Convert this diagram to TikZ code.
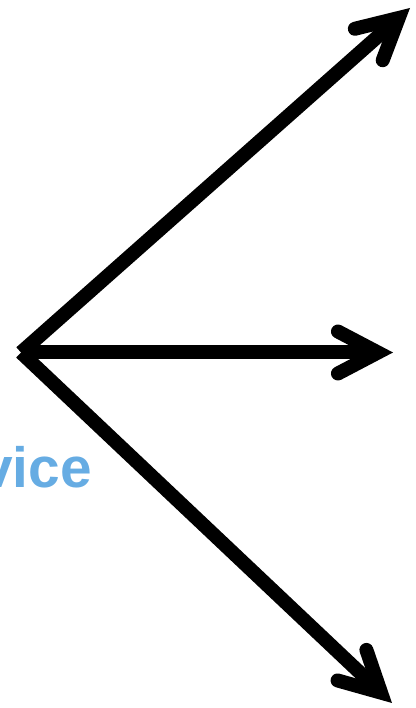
\documentclass[tikz,border=0pt]{standalone}
\usepackage{fontspec}
\setmainfont{Liberation Sans}
\usetikzlibrary{arrows.meta}
\definecolor{azulclaro}{RGB}{102,172,227}
\begin{document}
\begin{tikzpicture}[x=1bp,y=1bp,
  seta/.style={line width=14bp, -{Straight Barb[length=40bp,width=42bp,line cap=round]}}]
\useasboundingbox (0,0) rectangle (415,708);
\clip (0,0) rectangle (415,708);
% Texto
\node[anchor=base east, inner sep=0pt, text=azulclaro, font=\fontsize{57}{57}\selectfont\bfseries] (servico) at (92,220) {Service};
% Setas
\coordinate (centro) at (21,355.5);
\coordinate (cima) at (410,700);
\coordinate (direita) at (393,355.5);
\coordinate (baixo) at (392,5);
\foreach \fim in {cima,direita,baixo}
  \draw[seta] (centro) -- (\fim);
\end{tikzpicture}
\end{document}
